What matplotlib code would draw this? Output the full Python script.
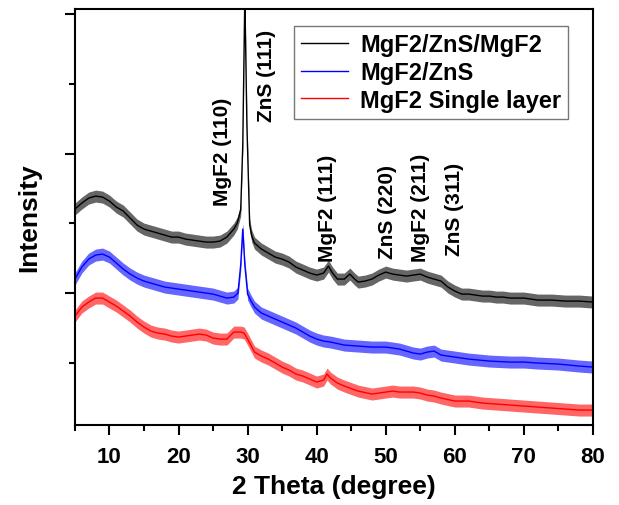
import numpy as np
import matplotlib.pyplot as plt

plt.rcParams['font.family'] = ['Liberation Sans', 'DejaVu Sans']
plt.rcParams['font.weight'] = 'bold'

# 2 theta (degree) and intensity (a.u.)
tt_3 = [5, 6, 7, 8, 9, 10, 11, 12, 13, 14, 15, 16, 17, 18, 19, 20, 21, 22, 23, 24,
        25, 26, 27, 28, 28.5, 29, 29.3, 29.6, 29.9, 30.3, 30.6, 31, 32, 33, 34, 35,
        36, 37, 38, 39, 40, 41, 41.7, 42.3, 43, 44, 44.8, 45.5, 46, 47, 48, 49, 50,
        51, 52, 53, 54, 55, 56, 57, 58, 59, 60, 61, 62, 63, 64, 65, 66, 67, 68, 69,
        70, 72, 74, 76, 78, 80]
i_3 = [216, 222, 227, 229, 228, 224, 218, 214, 207, 200, 196, 194, 192, 190, 188,
       188, 186, 185, 184, 183, 183, 184, 188, 196, 202, 215, 280, 430, 300, 200,
       189, 182, 176, 172, 168, 166, 163, 158, 155, 152, 150, 152, 159, 152, 146,
       146, 151, 146, 143, 144, 146, 150, 153, 151, 150, 149, 150, 151, 148, 146,
       144, 138, 134, 131, 131, 130, 129, 129, 128, 128, 127, 127, 127, 125, 125,
       124, 124, 123]

tt_2 = [5, 6, 7, 8, 9, 10, 11, 12, 13, 14, 15, 16, 17, 18, 19, 20, 21, 22, 23, 24,
        25, 26, 27, 28, 28.6, 29.0, 29.3, 29.6, 30, 30.5, 31, 32, 33, 34, 35, 36,
        37, 38, 39, 40, 41, 42, 44, 46, 48, 50, 52, 53, 54, 55, 56, 57, 58, 60, 62,
        65, 68, 70, 72, 75, 78, 80]
i_2 = [146, 158, 166, 170, 171, 168, 162, 156, 151, 147, 144, 142, 140, 138, 137,
       136, 135, 134, 133, 132, 131, 129, 127, 128, 132, 160, 196, 160, 131, 124,
       118, 112, 109, 106, 103, 100, 97, 93, 89, 86, 84, 83, 80, 79, 78, 78, 76,
       74, 72, 71, 73, 74, 70, 68, 66, 64, 63, 63, 62, 61, 59, 58]

tt_1 = [5, 6, 7, 8, 9, 10, 11, 12, 13, 14, 15, 16, 17, 18, 19, 20, 21, 22, 23, 24,
        25, 26, 27, 28, 29, 29.5, 30, 31, 32, 33, 34, 35, 36, 37, 38, 39, 40, 41,
        41.5, 42, 43, 44, 46, 48, 49, 50, 51, 52, 53, 54, 55, 56, 57, 58, 60, 62,
        64, 66, 68, 70, 72, 74, 76, 78, 80]
i_1 = [109, 118, 123, 127, 127, 123, 119, 114, 109, 103, 98, 94, 92, 91, 89, 88,
       89, 90, 91, 90, 87, 86, 86, 93, 93, 92, 86, 73, 69, 66, 62, 58, 55, 51, 49,
       46, 43, 45, 51, 47, 42, 39, 34, 31, 32, 33, 34, 33, 33, 33, 32, 30, 29, 27,
       24, 24, 22, 21, 20, 19, 18, 17, 16, 15, 15]

noise = 6  # half width of the noise band

names = ['MgF2/ZnS/MgF2', 'MgF2/ZnS', 'MgF2 Single layer']
peaks = ['MgF2 (110)', 'ZnS (111)', 'MgF2 (111)', 'ZnS (220)', 'MgF2 (211)', 'ZnS (311)']
peak_x = [26.4, 32.8, 41.5, 50.2, 55.0, 60.0]
peak_y = [220, 304, 164, 167, 164, 170]

fig = plt.figure(figsize=(6.19, 5.06), dpi=100)
ax = fig.add_axes([0.121, 0.158, 0.837, 0.822])

series = [(tt_3, i_3, 'black'), (tt_2, i_2, '#0000ff'), (tt_1, i_1, '#ff0000')]
for (x, y, c), n in zip(series, names):
    x = np.array(x)
    y = np.array(y)
    ax.fill_between(x, y - noise, y + noise, color=c, alpha=0.6, lw=0)
    ax.plot(x, y, color=c, lw=1.0, label=n)

for t, px, py in zip(peaks, peak_x, peak_y):
    ax.text(px, py, t, rotation=90, ha='center', va='bottom', fontsize=15,
            fontweight='bold')

ax.set_xlim(5, 80)
ax.set_ylim(0, 416)
ax.set_xticks(range(10, 81, 10))
ax.set_xticks(range(5, 81, 10), minor=True)
ax.set_yticks([132, 271.5, 411])
ax.set_yticks([62.25, 201.75, 341.25], minor=True)
ax.set_yticklabels([])
ax.tick_params(axis='both', which='major', direction='out', length=7, width=1.5,
               labelsize=16, pad=8)
ax.tick_params(axis='both', which='minor', direction='out', length=4, width=1.5)
for s in ax.spines.values():
    s.set_linewidth(1.5)

ax.set_xlabel('2 Theta (degree)', fontsize=19, fontweight='bold', labelpad=5)
ax.set_ylabel('Intensity', fontsize=19, fontweight='bold', labelpad=9)

leg = ax.legend(loc='upper right', bbox_to_anchor=(0.952, 0.959), borderaxespad=0,
                fontsize=17, frameon=True, fancybox=False, handlelength=2.0,
                handletextpad=0.5, labelspacing=0.2, borderpad=0.3)
leg.get_frame().set_edgecolor('#555555')
leg.get_frame().set_linewidth(1.0)
for t in leg.get_texts():
    t.set_fontweight('bold')

fig.savefig('out.png', dpi=100)
